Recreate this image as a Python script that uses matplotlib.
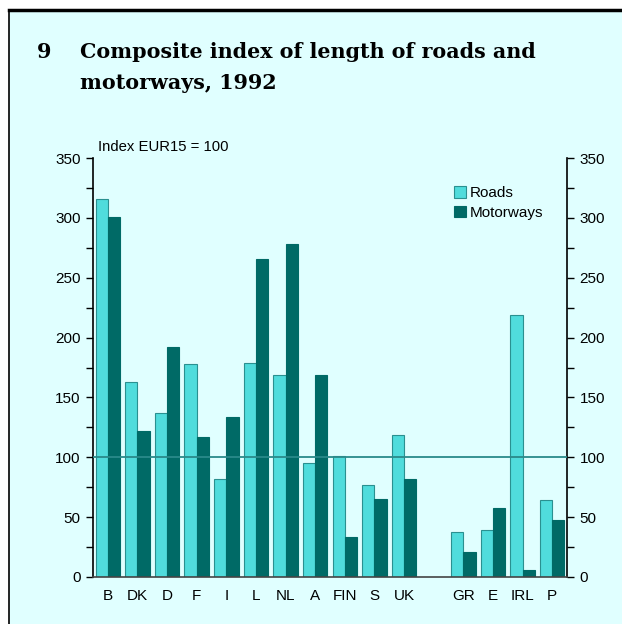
import matplotlib.pyplot as plt
from matplotlib.patches import Rectangle
from matplotlib.ticker import MultipleLocator
import numpy as np

# data
countries = ['B', 'DK', 'D', 'F', 'I', 'L', 'NL', 'A', 'FIN', 'S', 'UK', '', 'GR', 'E', 'IRL', 'P']
roads = [316, 163, 137, 178, 82, 179, 169, 95, 101, 77, 119, np.nan, 38, 39, 219, 64]
motorways = [301, 122, 192, 117, 134, 266, 278, 169, 33, 65, 82, np.nan, 21, 58, 6, 48]

bg = '#e0ffff'
c_roads = '#50dcdc'
c_motor = '#006a66'

fig = plt.figure(figsize=(6.22, 6.24), dpi=100)
fig.patch.set_facecolor('white')

# panel frame: cyan box, thick top edge, thin left edge
fig.patches.append(Rectangle((9/622, 0), 1, 1 - 9/624, transform=fig.transFigure,
                             facecolor=bg, edgecolor='none', zorder=-5))
fig.lines.append(plt.Line2D([9/622, 1], [1 - 10/624, 1 - 10/624], transform=fig.transFigure,
                            color='black', lw=2.5))
fig.lines.append(plt.Line2D([9/622, 9/622], [0, 1 - 10/624], transform=fig.transFigure,
                            color='black', lw=1.2))

tfont = dict(family='DejaVu Serif', weight='bold', fontsize=14.9)
fig.text(37/622, 1 - 58/624, '9', **tfont)
fig.text(80/622, 1 - 58/624, 'Composite index of length of roads and', **tfont)
fig.text(80/622, 1 - 89/624, 'motorways, 1992', **tfont)

ax = fig.add_axes([93/622, 47/624, 474/622, 419/624])
ax.set_facecolor('none')

x = np.arange(len(countries))
w = 0.415
ax.bar(x - w/2, roads, w, color=c_roads, edgecolor='#2a9090', linewidth=0.8, label='Roads', zorder=2)
ax.bar(x + w/2, motorways, w, color=c_motor, edgecolor=c_motor, linewidth=0.8, label='Motorways', zorder=2)
ax.axhline(100, color='#2a8a8a', lw=1.3, zorder=3)

ax.set_xlim(-0.5, len(countries) - 0.5)
ax.set_ylim(0, 350)
ax.set_xticks(x)
ax.set_xticklabels(countries, family='Liberation Sans', fontsize=11)
ax.tick_params(axis='x', length=0, pad=9)
ax.yaxis.set_major_locator(MultipleLocator(50))
ax.yaxis.set_minor_locator(MultipleLocator(25))
ax.tick_params(axis='y', which='both', direction='out', left=True, right=True,
               labelleft=True, labelright=True, labelsize=11, length=5, width=1, pad=4)
for lab in ax.get_yticklabels():
    lab.set_family('Liberation Sans')

for s in ['left', 'right']:
    ax.spines[s].set_linewidth(1.2)
ax.spines['top'].set_visible(False)
ax.spines['bottom'].set_color('#444444')
ax.spines['bottom'].set_linewidth(1.2)

ax.text(98/622, 1 - 147/624, 'Index EUR15 = 100', transform=fig.transFigure,
        family='Liberation Sans', fontsize=10.7, va='center')

ax.legend(loc='upper left', bbox_to_anchor=(0.733, 0.965), frameon=False,
          prop={'family': 'Liberation Sans', 'size': 11},
          handlelength=0.75, handleheight=0.75, handletextpad=0.3, labelspacing=0.35)

fig.savefig('out.png', dpi=100)
